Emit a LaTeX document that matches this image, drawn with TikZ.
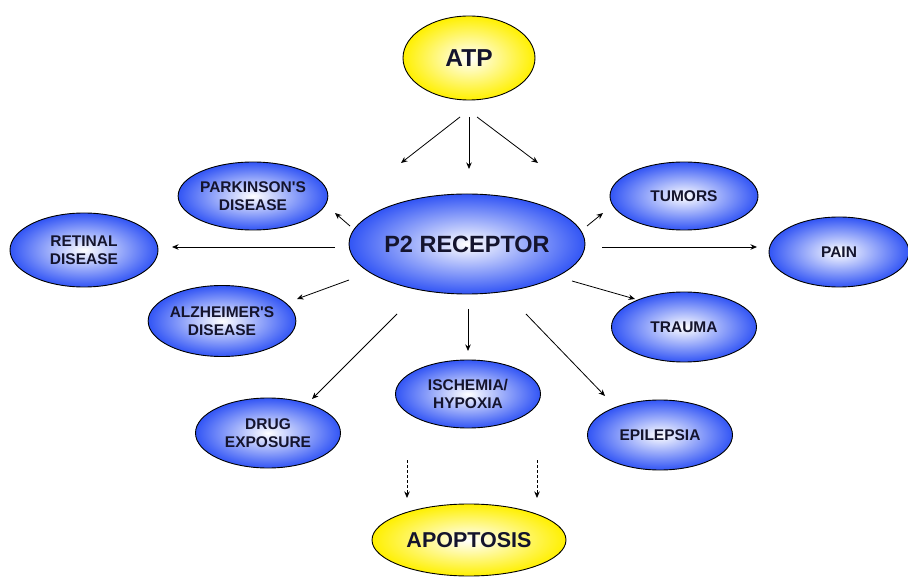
\documentclass[tikz,border=0pt]{standalone}
\usepackage{fontspec}
\setmainfont{Liberation Sans}
\usetikzlibrary{shapes.geometric,arrows.meta}
\definecolor{bluedark}{RGB}{50,85,245}
\definecolor{yel}{RGB}{255,240,0}
\definecolor{txt}{RGB}{20,20,45}
\begin{document}
\begin{tikzpicture}[x=1pt,y=-1pt,
  oval/.style={ellipse,draw=black,line width=0.9pt,inner sep=0pt,align=center,
    text=txt,font=\bfseries\fontsize{15.5}{18.5}\selectfont},
  blueoval/.style={oval,inner color=white,outer color=bluedark},
  yeloval/.style={oval,inner color=white,outer color=yel},
  arr/.style={-{Stealth[length=6.5pt,width=5.5pt]},line width=0.8pt},
  darr/.style={arr,dashed,dash pattern=on 3pt off 2pt}]
\useasboundingbox (0,0) rectangle (908,577);
% nodes
\node[yeloval,minimum width=132pt,minimum height=84pt,font=\bfseries\fontsize{24.5}{26}\selectfont] (atp) at (469,58) {ATP};
\node[blueoval,minimum width=236pt,minimum height=100pt,font=\bfseries\fontsize{23.5}{26}\selectfont] (p2) at (467,244) {P2 RECEPTOR};
\node[blueoval,minimum width=148pt,minimum height=68pt] (park) at (253,196) {PARKINSON\textquotesingle S\\DISEASE};
\node[blueoval,minimum width=148pt,minimum height=74pt] (ret) at (84,250) {RETINAL\\DISEASE};
\node[blueoval,minimum width=145pt,minimum height=71pt] (alz) at (222,321) {ALZHEIMER\textquotesingle S\\DISEASE};
\node[blueoval,minimum width=145pt,minimum height=70pt] (drug) at (268,433) {DRUG\\EXPOSURE};
\node[blueoval,minimum width=145pt,minimum height=68pt] (isch) at (468,394) {ISCHEMIA/\\HYPOXIA};
\node[blueoval,minimum width=145pt,minimum height=70pt] (epi) at (660,435) {EPILEPSIA};
\node[blueoval,minimum width=145pt,minimum height=70pt] (trau) at (684,327) {TRAUMA};
\node[blueoval,minimum width=148pt,minimum height=68pt] (tum) at (684,196) {TUMORS};
\node[blueoval,minimum width=140pt,minimum height=70pt] (pain) at (839,252) {PAIN};
\node[yeloval,minimum width=194pt,minimum height=72pt,font=\bfseries\fontsize{21.5}{24}\selectfont] (apo) at (469,540) {APOPTOSIS};
% arrow end points
\coordinate (a1s) at (460,117); \coordinate (a1e) at (401,163);
\coordinate (a2s) at (469,117); \coordinate (a2e) at (469,169);
\coordinate (a3s) at (477,117); \coordinate (a3e) at (538,163);
\coordinate (pks) at (350,226); \coordinate (pke) at (335,213);
\coordinate (rts) at (335,247); \coordinate (rte) at (172,247);
\coordinate (azs) at (349,280); \coordinate (aze) at (297,299);
\coordinate (drs) at (397,314); \coordinate (dre) at (312,399);
\coordinate (iss) at (468,309); \coordinate (ise) at (468,351);
\coordinate (eps) at (526,314); \coordinate (epe) at (605,396);
\coordinate (trs) at (572,281); \coordinate (tre) at (635,299);
\coordinate (tus) at (587,226); \coordinate (tue) at (603,213);
\coordinate (pas) at (602,247); \coordinate (pae) at (757,247);
\coordinate (d1s) at (407,460); \coordinate (d1e) at (407,498);
\coordinate (d2s) at (537,460); \coordinate (d2e) at (537,498);
% connectors
\draw[arr] (a1s) -- (a1e);
\draw[arr] (a2s) -- (a2e);
\draw[arr] (a3s) -- (a3e);
\draw[arr] (pks) -- (pke);
\draw[arr] (rts) -- (rte);
\draw[arr] (azs) -- (aze);
\draw[arr] (drs) -- (dre);
\draw[arr] (iss) -- (ise);
\draw[arr] (eps) -- (epe);
\draw[arr] (trs) -- (tre);
\draw[arr] (tus) -- (tue);
\draw[arr] (pas) -- (pae);
\draw[darr] (d1s) -- (d1e);
\draw[darr] (d2s) -- (d2e);
\end{tikzpicture}
\end{document}
